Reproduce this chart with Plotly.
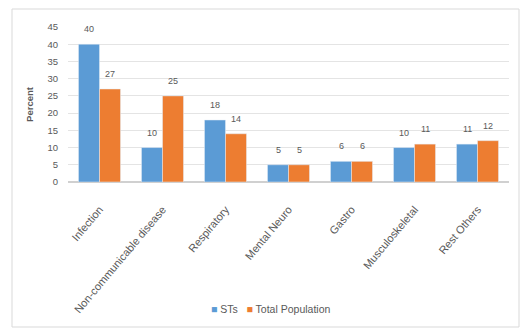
import plotly.graph_objects as go

categories = ["Infection", "Non-communicable disease", "Respiratory", "Mental Neuro",
              "Gastro", "Musculoskeletal", "Rest Others"]
sts = [40, 10, 18, 5, 6, 10, 11]
total_population = [27, 25, 14, 5, 6, 11, 12]
series_names = ["STs", "Total Population"]
y_ticks = [0, 5, 10, 15, 20, 25, 30, 35, 40, 45]

BLUE = "#5B9BD5"
ORANGE = "#ED7D31"
FONT = "Liberation Sans"
TEXT = "#595959"

fig = go.Figure()
fig.add_trace(go.Bar(x=categories, y=sts, name=series_names[0], marker_color=BLUE))
fig.add_trace(go.Bar(x=categories, y=total_population, name=series_names[1],
                     marker_color=ORANGE))

# value labels above each bar
annotations = []
for series, shift in ((sts, -10.5), (total_population, 10.5)):
    for cat, val in zip(categories, series):
        annotations.append(dict(x=cat, y=val, text=str(val), showarrow=False,
                                xshift=shift, yshift=15, yanchor="middle",
                                font=dict(family=FONT, size=9, color=TEXT)))

# compact legend below the category labels
legend_text = "&nbsp;&nbsp;&nbsp;".join(
    f'<span style="color:{c}">■</span> {n}' for c, n in zip((BLUE, ORANGE), series_names))
annotations.append(dict(xref="paper", yref="paper", x=(270 - 68) / 441, y=(182 - 309) / 155,
                        xanchor="center", yanchor="middle", showarrow=False,
                        text=legend_text, font=dict(family=FONT, size=10.5, color=TEXT)))

fig.update_layout(
    width=523, height=331,
    margin=dict(l=68, r=14, t=27, b=149),
    paper_bgcolor="white", plot_bgcolor="white",
    barmode="group", bargap=0.333, bargroupgap=0,
    font=dict(family=FONT, size=9, color=TEXT),
    annotations=annotations,
    showlegend=False,
    shapes=[dict(type="rect", xref="paper", yref="paper",
                 x0=(12 - 68) / 441, x1=(519 - 68) / 441,
                 y0=(182 - 327) / 155, y1=(182 - 9) / 155,
                 line=dict(color="#D9D9D9", width=1), layer="below")],
)
fig.update_xaxes(tickangle=-50, tickfont=dict(size=11, color=TEXT),
                 showline=False, ticks="", ticklabelstandoff=18)
fig.update_yaxes(range=[0, 45], tickvals=y_ticks, showgrid=True, gridcolor="#E4E4E4",
                 zeroline=True, zerolinecolor="#D0D0D0", ticks="", ticklabelstandoff=9,
                 tickfont=dict(size=9.5, color=TEXT),
                 title=dict(text="<b>Percent</b>", font=dict(size=9.5, color=TEXT),
                            standoff=12))

fig.write_html("out.html")
